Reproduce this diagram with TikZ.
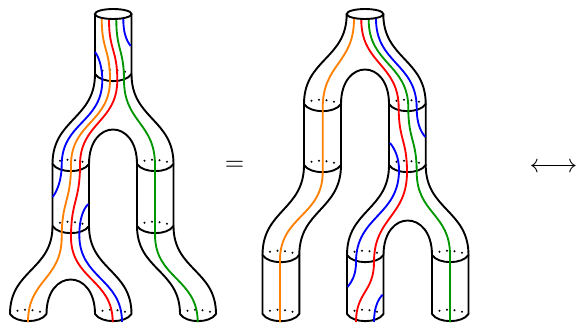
\documentclass[tikz,border=0pt]{standalone}
\usetikzlibrary{calc}
\definecolor{strandgreen}{RGB}{0,150,0}
\definecolor{strandorange}{RGB}{255,128,0}
\tikzset{
  outline/.style={line width=1.9pt,black,line cap=round},
  strand/.style={line width=1.85pt},
  rimdot/.style={fill=black,draw=none,radius=1.15pt},
  sto/.style={to path={let \p1=(\tikztostart),\p2=(\tikztotarget) in
    .. controls (\x1,{0.5*(\y1+\y2)}) and (\x2,{0.5*(\y1+\y2)}) .. (\tikztotarget)}}
}
\newcommand{\rimat}[3]{%
  \draw[outline] (#1,#2) .. controls ({#1+6},{#2+9.5}) and ({#3-6},{#2+9.5}) .. (#3,#2);
  \fill[rimdot] ({#1+7.5},{#2-3.2}) circle[];
  \fill[rimdot] ({#1+15},{#2-4.2}) circle[];
  \fill[rimdot] ({#1+22.5},{#2-3.8}) circle[];
  \fill[rimdot] ({#1+30},{#2-2.2}) circle[];
}
\newcommand{\sside}[4]{\draw[outline] (#1,#2) to[sto] (#3,#4);}
\newcommand{\archat}[3]{%
  \draw[outline] (#1,#2) .. controls (#1,{#2-46}) and (#3,{#2-46}) .. (#3,#2);
}
% a hair of slant keeps the renderer from snapping the stroke to a thin pixel column
\newcommand{\vside}[3]{\draw[outline] (#1,#2) -- ({#1+0.03},#3);}
\begin{document}
\begin{tikzpicture}[x=1pt,y=-1pt]
\useasboundingbox (0,0) rectangle (577,323);
% ---------- left figure ----------
\draw[outline] (113.2,14) ellipse[x radius=18.3,y radius=5];
\vside{95}{14}{74}\vside{131.5}{14}{74}
\rimat{95}{74}{131.5}
\sside{95}{74}{52.5}{164}
\sside{131.5}{74}{173.5}{164}
\archat{89}{164}{137}
\rimat{52.5}{164}{89}
\rimat{137}{164}{173.5}
\vside{52.5}{164}{226}\vside{89}{164}{226}
\vside{137}{164}{226}\vside{173.5}{164}{226}
\rimat{52.5}{226}{89}
\rimat{137}{226}{173.5}
\sside{52.5}{226}{10}{314}
\sside{89}{226}{131.5}{314}
\archat{46.5}{314}{95}
\sside{137}{226}{180}{314}
\sside{173.5}{226}{216}{314}
\rimat{10}{314}{46.5}
\rimat{95}{314}{131.5}
\rimat{180}{314}{216}
% ---------- right figure ----------
\draw[outline] (365,14) ellipse[x radius=18.3,y radius=5];
\sside{346.7}{14}{304}{104}
\sside{383.3}{14}{425.7}{104}
\archat{341}{104}{389}
\rimat{304}{104}{341}
\rimat{389}{104}{425.7}
\vside{304}{104}{165}\vside{341}{104}{165}
\vside{389}{104}{165}\vside{425.7}{104}{165}
\rimat{304}{165}{341}
\rimat{389}{165}{425.7}
\sside{304}{165}{262.5}{255}
\sside{341}{165}{299.3}{255}
\sside{389}{165}{347}{255}
\sside{425.7}{165}{468.5}{255}
\archat{383.5}{255}{432}
\rimat{262.5}{255}{299.3}
\rimat{347}{255}{383.5}
\rimat{432}{255}{468.5}
\vside{262.5}{255}{314}\vside{299.3}{255}{314}
\vside{347}{255}{314}\vside{383.5}{255}{314}
\vside{432}{255}{314}\vside{468.5}{255}{314}
\rimat{262.5}{314}{299.3}
\rimat{347}{314}{383.5}
\rimat{432}{314}{468.5}
% ---------- strands, left figure ----------
\draw[strand,strandorange] (101.7,19) to[sto] (110,80) to[sto] (71,165) to[sto] (61.7,237) to[sto] (28,322);
\draw[strand,red] (109,20) to[sto] (117.3,80) to[sto] (80,165) to[sto] (71,237) to[sto] (112.7,322);
\draw[strand,strandgreen] (116.3,20) to[sto] (124,80) to[sto] (155,165) -- (155.03,235) to[sto] (197.7,322);
\draw[strand,blue] (123.3,19) .. controls (123.3,32) and (126,40) .. (130.7,46);
\draw[strand,blue] (95,52) .. controls (99,57) and (102.3,68) .. (102.3,80) to[sto] (61.7,165) .. controls (61.7,178) and (58,190) .. (52.7,197);
\draw[strand,blue] (88.3,204) .. controls (83,209) and (79.3,220) .. (79.3,235) to[sto] (122,322);
% ---------- strands, right figure ----------
\draw[strand,strandorange] (354,19) to[sto] (322.7,108) -- (322.73,172) to[sto] (280,260) -- (280.03,322);
\draw[strand,red] (361.3,20) to[sto] (398.7,108) to[sto] (407,172) to[sto] (374,262) to[sto] (356,322);
\draw[strand,strandgreen] (368.7,20) to[sto] (408.3,108) to[sto] (416.7,172) to[sto] (450,255) -- (450.03,322);
\draw[strand,blue] (376,19) to[sto] (416.7,108) .. controls (416.7,122) and (420,131) .. (425.3,137);
\draw[strand,blue] (390,143) .. controls (395,149) and (399,158) .. (399,170) to[sto] (356,262) .. controls (356,275) and (352,281) .. (347.7,287);
\draw[strand,blue] (382.7,294.7) .. controls (378,299) and (374,308) .. (374,322);
% ---------- labels ----------
\node[scale=2.5,inner sep=0pt] (eq) at (234.5,166) {$=$};
\node[scale=2.6,inner sep=0pt] (arrow) at (553.5,167.5) {$\longleftrightarrow$};
\end{tikzpicture}
\end{document}
